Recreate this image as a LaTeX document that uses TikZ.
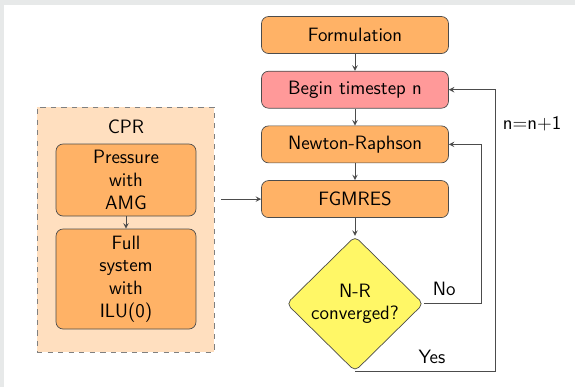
\documentclass[tikz,border=0pt]{standalone}
\usetikzlibrary{shapes.geometric,positioning}
\definecolor{framegray}{HTML}{E7E9E9}
\begin{document}
\begin{tikzpicture}[x=0.02cm,y=-0.02cm,
        font=\sffamily\fontsize{11}{13}\selectfont,
        box/.style={draw=black!70,fill=orange!60,rounded corners=4pt,
            minimum width=3.74cm,minimum height=0.74cm,inner sep=2pt},
        innerbox/.style={box,minimum width=2.8cm,align=center,text width=2.6cm},
        arr/.style={-stealth,draw=black!70,line width=0.4pt}]
    % frame
    \fill[framegray] (0,0) rectangle (575,387);
    \fill[white] (4,5) rectangle (575,387);
    \useasboundingbox (0,0) rectangle (575,387);
    % main flow
    \node[box] (form) at (355,35) {Formulation};
    \node[box,fill=red!40,below=0.34cm of form] (begin) {Begin timestep n};
    \node[box,below=0.34cm of begin] (newton) {Newton-Raphson};
    \node[box,below=0.34cm of newton] (fgmres) {FGMRES};
    \node[diamond,draw=black!70,fill=yellow!60,rounded corners=3pt,
        minimum width=2.74cm,minimum height=2.7cm,inner sep=1pt,align=center,
        below=0.36cm of fgmres] (conv) {N-R\\converged?};
    % preconditioner
    \node[draw=black!50,dashed,fill=orange!25,minimum width=3.54cm,
        minimum height=4.9cm] (cpr) at (125.5,229.5) {};
    \node (cprtitle) at (126,127) {CPR};
    \node[innerbox,minimum height=1.44cm] (press) at (126,180) {Pressure\\with\\AMG};
    \node[innerbox,minimum height=2cm] (full) at (126,279) {Full\\system\\with\\ILU(0)};
    % connectors
    \draw[arr] (form) -- (begin);
    \draw[arr] (begin) -- (newton);
    \draw[arr] (newton) -- (fgmres);
    \draw[arr] (fgmres) -- (conv);
    \draw[arr] (press) -- (full);
    \draw[arr,shorten <=4] (cpr.east |- fgmres.west) -- (fgmres.west);
    \draw[arr] (conv.east) -- node[pos=0.35,above=1pt] (no) {No} ++(58,0) |- (newton.east);
    \draw[arr] (conv.south) -- node[pos=0.55,above=1pt] (yes) {Yes} ++(140,0)
        |- node[pos=0.44,right=1pt] (incr) {n=n+1} (begin.east);
\end{tikzpicture}
\end{document}
